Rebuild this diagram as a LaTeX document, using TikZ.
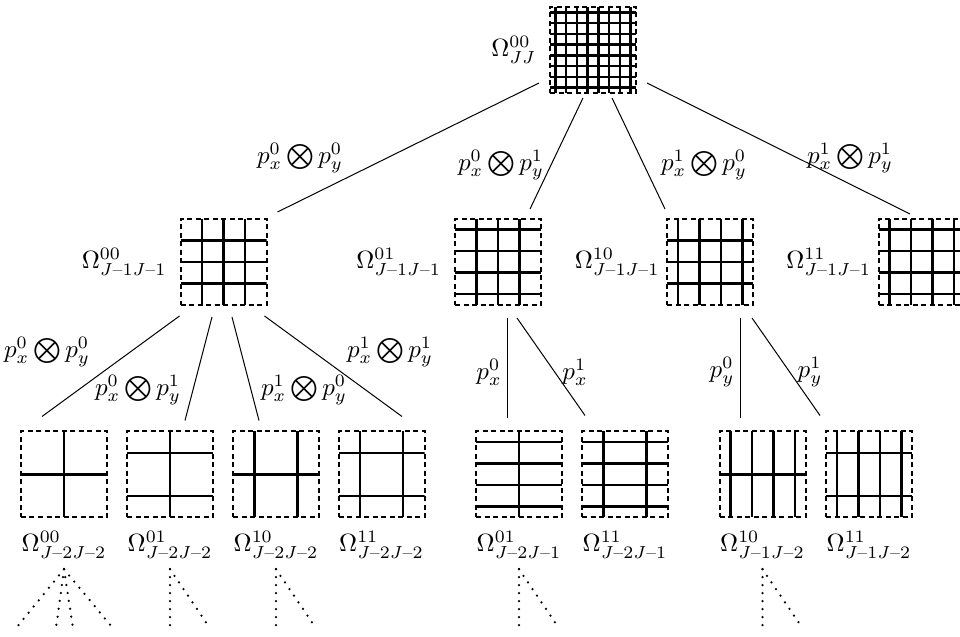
\documentclass[tikz,border=0pt]{standalone}
\usepackage{amsmath}
\usetikzlibrary{positioning,calc}

\begin{document}
\begin{tikzpicture}[
    x=0.4pt, y=-0.4pt,
    cell/.style 2 args={rectangle, draw, thick, dash pattern=on 2pt off 1.4pt, minimum size=34.4pt, inner sep=0pt,
      path picture={
        \foreach \q in {#1}
          \draw[solid, line width=1pt] ($(path picture bounding box.north west)!\q!(path picture bounding box.north east)$) -- ($(path picture bounding box.south west)!\q!(path picture bounding box.south east)$);
        \foreach \q in {#2}
          \draw[solid, line width=1pt] ($(path picture bounding box.north west)!\q!(path picture bounding box.south west)$) -- ($(path picture bounding box.north east)!\q!(path picture bounding box.south east)$);
      }},
    lab/.style={inner sep=0pt},
    link/.style={thin},
    more/.style={line width=1pt, dash pattern=on 0pt off 3.2pt, line cap=round}
  ]
    \useasboundingbox (0,0) rectangle (960,637);
    % grids
    \node[cell={0.0625,0.1875,0.3125,0.4375,0.5625,0.6875,0.8125,0.9375}{0.0625,0.1875,0.3125,0.4375,0.5625,0.6875,0.8125,0.9375}] (om) at (593,50) {};
    \node[cell={0.25,0.5,0.75}{0.25,0.5,0.75}] (a00) at (223.5,262) {};
    \node[cell={0.25,0.5,0.75}{0.125,0.375,0.625,0.875}] (a01) at (498,262) {};
    \node[cell={0.125,0.375,0.625,0.875}{0.25,0.5,0.75}] (a10) at (710,262) {};
    \node[cell={0.125,0.375,0.625,0.875}{0.125,0.375,0.625,0.875}] (a11) at (921.5,262) {};
    \node[cell={0.5}{0.5}] (b00) at (64,474.5) {};
    \node[cell={0.5}{0.25,0.75}] (b01) at (170,474.5) {};
    \node[cell={0.25,0.75}{0.5}] (b10) at (276,474.5) {};
    \node[cell={0.25,0.75}{0.25,0.75}] (b11) at (381.5,474.5) {};
    \node[cell={0.5}{0.125,0.375,0.625,0.875}] (c01) at (519,474.5) {};
    \node[cell={0.25,0.75}{0.125,0.375,0.625,0.875}] (c11) at (625,474.5) {};
    \node[cell={0.125,0.375,0.625,0.875}{0.5}] (d10) at (762.5,474.5) {};
    \node[cell={0.125,0.375,0.625,0.875}{0.25,0.75}] (d11) at (869,474.5) {};
    % names
    \node[lab, left=5pt of om] (lom) {$\Omega^{00}_{JJ}$};
    \node[lab, left=5pt of a00] (la00) {$\Omega^{00}_{J\text{--}1J\text{--}1}$};
    \node[lab, left=5pt of a01] (la01) {$\Omega^{01}_{J\text{--}1J\text{--}1}$};
    \node[lab, left=2.4pt of a10] (la10) {$\Omega^{10}_{J\text{--}1J\text{--}1}$};
    \node[lab, left=2.4pt of a11] (la11) {$\Omega^{11}_{J\text{--}1J\text{--}1}$};
    \node[lab, below=5pt of b00] (lb00) {$\Omega^{00}_{J\text{--}2J\text{--}2}$};
    \node[lab, below=5pt of b01] (lb01) {$\Omega^{01}_{J\text{--}2J\text{--}2}$};
    \node[lab, below=5pt of b10] (lb10) {$\Omega^{10}_{J\text{--}2J\text{--}2}$};
    \node[lab, below=5pt of b11] (lb11) {$\Omega^{11}_{J\text{--}2J\text{--}2}$};
    \node[lab, below=5pt of c01] (lc01) {$\Omega^{01}_{J\text{--}2J\text{--}1}$};
    \node[lab, below=5pt of c11] (lc11) {$\Omega^{11}_{J\text{--}2J\text{--}1}$};
    \node[lab, below=5pt of d10] (ld10) {$\Omega^{10}_{J\text{--}1J\text{--}2}$};
    \node[lab, below=5pt of d11] (ld11) {$\Omega^{11}_{J\text{--}1J\text{--}2}$};
    % filters
    \node[lab] (t00) at (300,158) {$p_x^0\bigotimes p_y^0$};
    \node[lab] (t01) at (501,165) {$p_x^0\bigotimes p_y^1$};
    \node[lab] (t10) at (704,165) {$p_x^1\bigotimes p_y^0$};
    \node[lab] (t11) at (850,158) {$p_x^1\bigotimes p_y^1$};
    \node[lab] (u00) at (47,352) {$p_x^0\bigotimes p_y^0$};
    \node[lab] (u01) at (138,390) {$p_x^0\bigotimes p_y^1$};
    \node[lab] (u10) at (304,390) {$p_x^1\bigotimes p_y^0$};
    \node[lab] (u11) at (390,352) {$p_x^1\bigotimes p_y^1$};
    \node[lab] (v0) at (489,372) {$p_x^0$};
    \node[lab] (v1) at (575,372) {$p_x^1$};
    \node[lab] (w0) at (722,372) {$p_y^0$};
    \node[lab] (w1) at (810,372) {$p_y^1$};
    % tree
    \draw[link] ($(om.south west)+(-10,-11)$) -- ($(a00.north east)+(10,-6)$);
    \draw[link] ($(om.south)+(-10,4)$) -- ($(a01.north east)+(-12,-9)$);
    \draw[link] ($(om.south)+(19,4)$) -- ($(a10.north west)+(-1,-9)$);
    \draw[link] ($(om.south east)+(10,-11)$) -- ($(a11.north)+(-11.5,-4)$);
    \draw[link] ($(a00.south west)+(0,10)$) -- ($(b00.north)+(-22,-14)$);
    \draw[link] ($(a00.south)+(-11.5,11)$) -- ($(b01.north)+(15,-10)$);
    \draw[link] ($(a00.south)+(8.5,11)$) -- ($(b10.north)+(-17,-10)$);
    \draw[link] ($(a00.south east)+(-3,10)$) -- ($(b11.north)+(20.5,-14)$);
    \draw[link] ($(a01.south)+(9,12)$) -- ($(c01.north)+(-12,-12)$);
    \draw[link] ($(a01.south)+(19,12)$) -- ($(c11.north)+(-40,-15)$);
    \draw[link] ($(a10.south)+(30,12)$) -- ($(d10.north)+(-22.5,-12)$);
    \draw[link] ($(a10.south)+(42,12)$) -- ($(d11.north)+(-49,-15)$);
    % further levels
    \foreach \e in {-48,-8,9,49}
      \draw[more] ($(lb00.south)+(0,10)$) -- ++(\e,59);
    \foreach \n in {lb01,lb10,lc01,ld10} {
      \draw[more] ($(\n.south)+(0,10)$) -- ++(0,59);
      \draw[more] ($(\n.south)+(0,10)$) -- ++(38,56);
    }
\end{tikzpicture}
\end{document}
